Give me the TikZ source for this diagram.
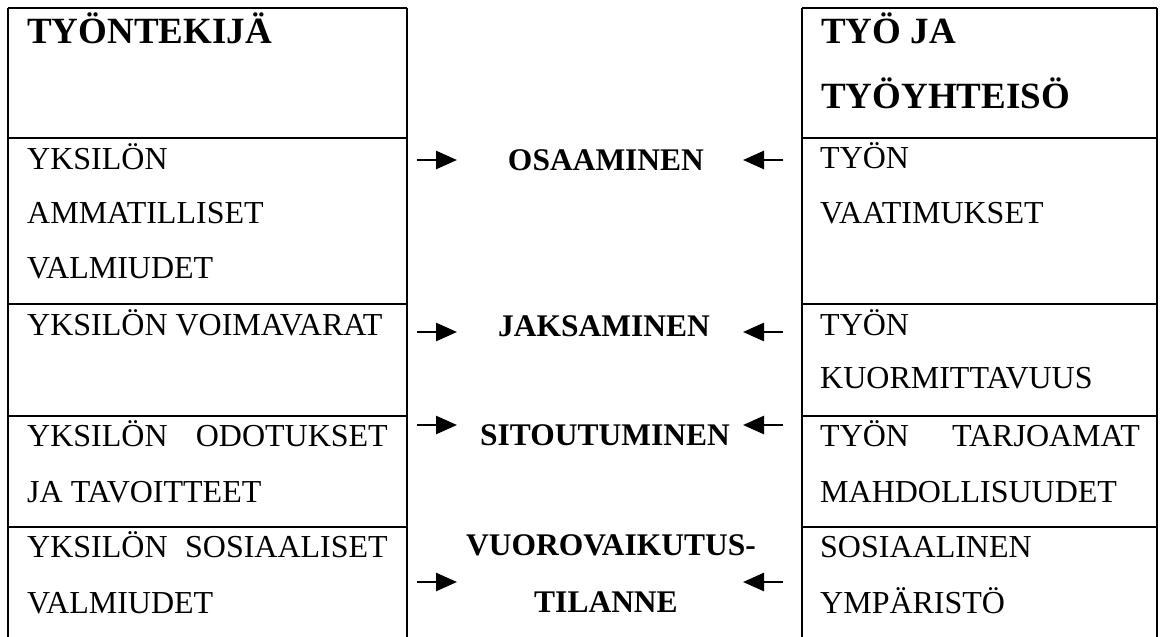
\documentclass[tikz,border=0pt]{standalone}
\usepackage{fontspec}
\setmainfont{Liberation Serif}
\usetikzlibrary{arrows.meta}
\tikzset{
  grid/.style={line width=1.3pt, black},
  txt/.style={anchor=base west, inner sep=0pt, font=\fontsize{32}{32}\selectfont},
  txtr/.style={anchor=base east, inner sep=0pt, font=\fontsize{32}{32}\selectfont},
  ttl/.style={anchor=base west, inner sep=0pt, font=\fontsize{37}{37}\selectfont\bfseries},
  mid/.style={anchor=base, inner sep=0pt, font=\fontsize{31.5}{31.5}\selectfont\bfseries},
  arr/.style={line width=2.6pt, -{Triangle[length=21pt,width=18pt]}},
}
\begin{document}
\begin{tikzpicture}[x=1pt,y=-1pt]
\useasboundingbox (0,0) rectangle (1160,637);
% left table
\draw[grid] (8,8) -- (8,637) (407,8) -- (407,637);
\foreach \yy in {8,138,304,416,527} \draw[grid] (8,\yy) -- (407,\yy);
% right table
\draw[grid] (802,8) -- (802,637) (1157,8) -- (1157,637);
\foreach \yy in {8,138,304,416,527} \draw[grid] (802,\yy) -- (1157,\yy);
% left texts
\node[ttl] (lt) at (27,43) {TYÖNTEKIJÄ};
\node[txt] (l1a) at (27,169) {YKSILÖN};
\node[txt] (l1b) at (27,223) {AMMATILLISET};
\node[txt] (l1c) at (27,278) {VALMIUDET};
\node[txt] (l2a) at (27,335) {YKSILÖN VOIMAVARAT};
\node[txt] (l3a) at (27,446) {YKSILÖN};
\node[txtr] (l3b) at (388,446) {ODOTUKSET};
\node[txt] (l3c) at (27,502) {JA TAVOITTEET};
\node[txt] (l4a) at (27,557) {YKSILÖN};
\node[txtr] (l4b) at (388,557) {SOSIAALISET};
\node[txt] (l4c) at (27,613) {VALMIUDET};
% right texts
\node[ttl] (rt1) at (821,43) {TYÖ JA};
\node[ttl] (rt2) at (821,108) {TYÖYHTEISÖ};
\node[txt] (r1a) at (820,168) {TYÖN};
\node[txt] (r1b) at (820,223) {VAATIMUKSET};
\node[txt] (r2a) at (820,335) {TYÖN};
\node[txt] (r2b) at (820,388) {KUORMITTAVUUS};
\node[txt] (r3a) at (820,446) {TYÖN};
\node[txtr] (r3b) at (1140,446) {TARJOAMAT};
\node[txt] (r3c) at (820,502) {MAHDOLLISUUDET};
\node[txt] (r4a) at (820,557) {SOSIAALINEN};
\node[txt] (r4b) at (820,613) {YMPÄRISTÖ};
% middle texts
\node[mid] (m1) at (606,170) {OSAAMINEN};
\node[mid] (m2) at (604,336) {JAKSAMINEN};
\node[mid] (m3) at (605,445) {SITOUTUMINEN};
\node[mid] (m4a) at (611,555) {VUOROVAIKUTUS-};
\node[mid] (m4b) at (606,612) {TILANNE};
% arrow endpoints
\foreach \i/\yy in {1/160,2/332,3/425,4/582}{
  \coordinate (la\i) at (417,\yy);
  \coordinate (lb\i) at (457,\yy);
  \coordinate (ra\i) at (783,\yy);
  \coordinate (rb\i) at (743,\yy);
}
\foreach \i in {1,2,3,4}{
  \draw[arr] (la\i) -- (lb\i);
  \draw[arr] (ra\i) -- (rb\i);
}
\end{tikzpicture}
\end{document}
